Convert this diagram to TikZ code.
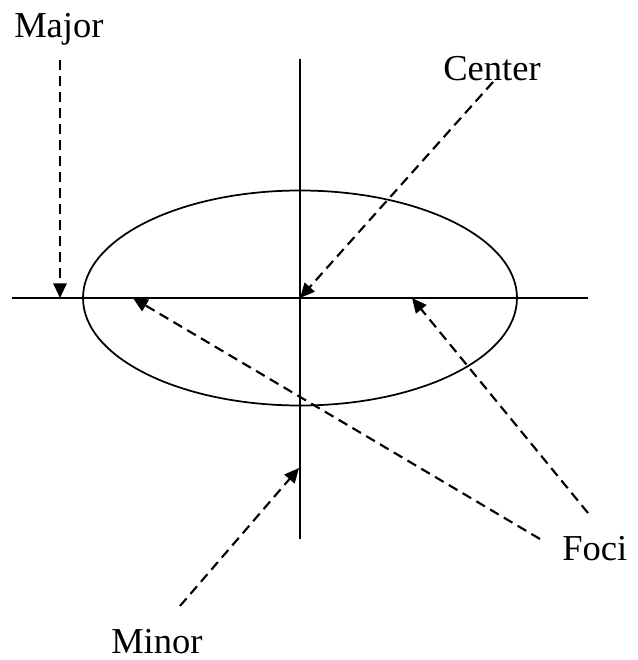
\documentclass[tikz,border=0pt]{standalone}
\usepackage{fontspec}
\setmainfont{Liberation Serif}
\usetikzlibrary{arrows.meta}
\begin{document}
\begin{tikzpicture}[x=0.75pt,y=-0.75pt,
  axis/.style={line width=1.3pt},
  curve/.style={line width=1.3pt},
  pointer/.style={line width=1.6pt, dash pattern=on 7.5pt off 4.5pt,
    -{Triangle[length=11pt,width=10pt]}},
  lbl/.style={inner sep=0pt, anchor=base west, font=\fontsize{27.4}{30}\selectfont}]
\useasboundingbox (0,0) rectangle (637,660);
% axes and ellipse
\coordinate (xl) at (12,298);
\coordinate (xr) at (588,298);
\coordinate (yt) at (300,59);
\coordinate (yb) at (300,539);
\draw[axis] (xl) -- (xr);
\draw[axis] (yt) -- (yb);
\coordinate (O) at (300,298);
\draw[curve] (O) ellipse [x radius=217, y radius=107.5];
% labels
\node[lbl] (major) at (14,38) {Major};
\node[lbl] (center) at (443,80) {Center};
\node[lbl] (foci) at (562,560) {Foci};
\node[lbl] (minor) at (111,653) {Minor};
% pointer start/end points
\coordinate (ma) at (60,60);
\coordinate (mt) at (60,298);
\coordinate (ca) at (493,82);
\coordinate (fa) at (540,539);
\coordinate (f1) at (133,298);
\coordinate (fb) at (588,513);
\coordinate (f2) at (412,298);
\coordinate (na) at (180,606);
\coordinate (nt) at (299,468);
\draw[pointer] (ma) -- (mt);
\draw[pointer] (ca) -- (O);
\draw[pointer] (fa) -- (f1);
\draw[pointer] (fb) -- (f2);
\draw[pointer] (na) -- (nt);
\end{tikzpicture}
\end{document}
